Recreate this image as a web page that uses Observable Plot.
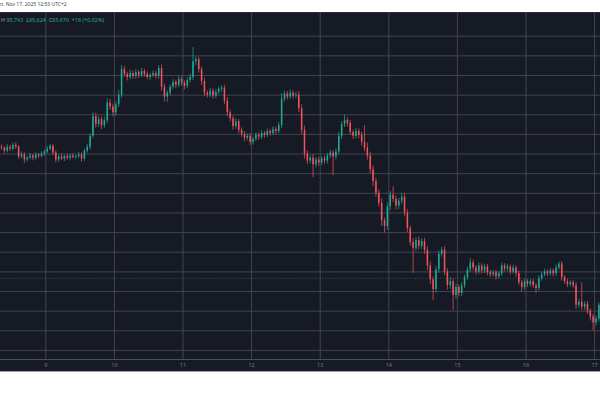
<!DOCTYPE html>
<html><head><meta charset="utf-8">
<script src="https://cdn.jsdelivr.net/npm/d3@7"></script>
<script src="https://cdn.jsdelivr.net/npm/@observablehq/plot@0.6"></script>
<style>
body{margin:0;background:#fff;width:600px;height:400px;overflow:hidden;font-family:"Noto Sans",sans-serif}
#wrap{position:relative;width:600px;height:400px;background:#fff}
#date{position:absolute;left:0;top:1px;font-size:5px;color:#434651;white-space:nowrap}
#panel{position:absolute;left:0;top:12px;width:600px;height:360px;background:#161a25;border-top:1px solid #2a2e39;border-bottom:1px solid #9aa0ab;box-sizing:border-box}
#legend{position:absolute;left:1px;top:3px;font-size:5.3px;color:#22ab94;white-space:nowrap;z-index:2;letter-spacing:0.05px}
#legend .k{color:#9aa0ab}
#chart{position:absolute;left:0;top:-1px}
</style></head>
<body>
<div id="wrap">
  <div id="date">n, Nov 17, 2025 12:53 UTC+2</div>
  <div id="panel">
    <div id="legend"><span class="k">H</span> 95,743 &nbsp;<span class="k">L</span>95,624 &nbsp;<span class="k">C</span>95,670 &nbsp;+16 (+0.02%)</div>
    <div id="chart"></div>
  </div>
</div>
<script>
// hourly candles, hours relative to Nov 9 00:00 (UTC+2); first candle opens Nov 8 08:00
const firstHour = -16;
const firstOpen = 102350;
const closes = [
102300,102150,102350,102250,102450,102350,101850,101950,101700,101800,
101900,101780,101950,101880,102000,102100,102250,102400,102050,101700,
101850,101750,101880,101780,101900,101820,101860,101950,101750,102150,
102350,102900,103900,103500,103750,103450,103700,104600,104400,104100,
104500,105000,106300,106050,105900,106100,105950,106150,106000,106200,
106050,105900,106000,106100,105950,106350,105400,104900,105100,105400,
105650,105500,105800,105600,105450,105750,105900,106700,106800,106300,
105700,105100,105000,105200,104950,105150,105300,105350,104700,104100,
103800,103400,103650,103200,103000,102800,102900,102600,102750,102950,
102850,103050,102950,103150,103050,103250,103150,103450,104800,105050,
104900,105100,104950,105000,104300,103200,102000,101650,101800,101450,
101700,101550,101750,101650,101900,102050,101850,102100,102900,103500,
103700,103550,103100,102900,103150,102950,102600,102300,101900,101200,
100600,100000,99500,98600,98300,99300,99900,99700,99350,99600,
99800,99000,98200,97500,97200,97600,97300,97550,97100,96300,
95600,95100,96100,96900,97100,96000,95300,95500,94800,95200,
94900,95300,95700,96100,96450,96200,96000,96300,96050,96250,
95950,95850,95950,95750,95900,96300,96150,96250,96000,96200,
95900,95450,95200,95500,95350,95500,95300,95150,95650,95850,
96000,95900,96050,95900,96200,96400,95700,95500,95350,95450,
95300,94300,94450,94200,94350,94000,93700,93400,93600,94300];
const wickUp = [
120,80,150,90,100,130,90,150,110,70,
140,90,120,80,110,100,130,90,80,120,
100,140,70,120,90,110,80,130,100,90,
150,120,200,180,150,120,160,200,180,140,
160,230,210,150,120,180,130,160,110,150,
120,140,100,130,110,160,180,150,130,120,
140,110,160,130,120,150,180,720,150,120,
130,160,110,150,120,140,110,130,150,180,
140,120,160,110,130,150,120,140,110,130,
120,150,100,130,110,140,120,160,280,150,
130,160,120,140,180,200,220,150,130,170,
120,140,110,150,130,160,120,180,200,150,
260,140,160,120,150,130,160,850,250,180,
200,160,180,220,150,200,180,440,160,150,
200,180,160,140,200,150,170,130,160,180,
200,150,180,160,140,180,160,220,150,170,
140,160,130,150,230,140,120,160,110,130,
120,140,100,130,110,150,120,140,100,130,
110,150,120,140,100,130,110,120,150,130,
140,110,130,100,150,100,120,110,130,100,
120,160,140,1000,130,150,120,140,160,120];
const wickDown = [
100,140,90,120,80,110,130,90,180,120,
90,130,100,110,80,120,90,100,140,160,
120,90,130,100,120,80,110,90,160,120,
110,140,120,180,150,200,140,160,180,200,
150,130,160,140,180,120,150,130,160,110,
140,120,150,110,130,140,200,250,280,150,
120,160,130,150,180,120,140,160,200,180,
200,180,150,130,160,140,120,150,180,200,
160,180,140,170,150,180,130,170,140,120,
150,110,140,120,130,110,150,120,140,160,
140,120,150,130,180,220,250,180,150,650,
160,180,140,170,150,130,950,150,140,160,
150,170,140,160,130,180,200,180,220,200,
250,220,200,280,300,200,180,160,190,170,
150,200,220,180,1280,160,190,150,200,230,
250,560,180,160,150,200,220,180,770,200,
180,160,150,140,130,150,170,120,150,130,
150,130,120,160,110,130,150,120,140,110,
160,150,200,130,150,120,140,250,120,130,
110,140,120,150,130,120,160,130,150,120,
140,200,160,180,150,170,200,400,160,150];
const gridPrices = [92000,93000,94000,95000,96000,97000,98000,99000,100000,101000,102000,103000,104000,105000,106000,107000,108000];
const dayTicks = [9,10,11,12,13,14,15,16,17];
const dayLabels = ["9","10","11","12","13","14","15","16","17"];
const lastPrice = 95670;

const upColor = "#22ab94", downColor = "#f7525f";
const candles = closes.map((c, i) => {
  const o = i === 0 ? firstOpen : closes[i - 1];
  return {t: firstHour + i + 0.5, open: o, close: c,
    high: Math.max(o, c) + wickUp[i], low: Math.min(o, c) - wickDown[i],
    color: c >= o ? upColor : downColor};
});
const ticks = dayTicks.map((d, i) => ({h: (d - 9) * 24, label: dayLabels[i]}));

const chart = Plot.plot({
  width: 600, height: 360,
  marginLeft: 0, marginRight: 0, marginTop: 0, marginBottom: 13,
  style: {background: "transparent", overflow: "visible"},
  x: {type: "linear", domain: [-15.85, 194.06], axis: null},
  y: {domain: [91539, 109207], axis: null},
  marks: [
    Plot.ruleY(gridPrices, {stroke: "#41454f", strokeWidth: 1}),
    Plot.ruleX(ticks, {x: "h", stroke: "#41454f", strokeWidth: 1}),
    Plot.frame({anchor: "bottom", stroke: "#4a4e59"}),
    Plot.ruleY([lastPrice], {stroke: upColor, strokeDasharray: "1,1.5", strokeOpacity: 0.45}),
    Plot.ruleX(candles, {x: "t", y1: "low", y2: "high", stroke: "color", strokeWidth: 0.7}),
    Plot.ruleX(candles, {x: "t", y1: "open", y2: "close", stroke: "color", strokeWidth: 1.5}),
    Plot.text(ticks, {x: "h", frameAnchor: "bottom", dy: 7, text: "label", fill: "#787b86", fontSize: 5.5})
  ]
});
document.getElementById("chart").appendChild(chart);
</script>
</body></html>
